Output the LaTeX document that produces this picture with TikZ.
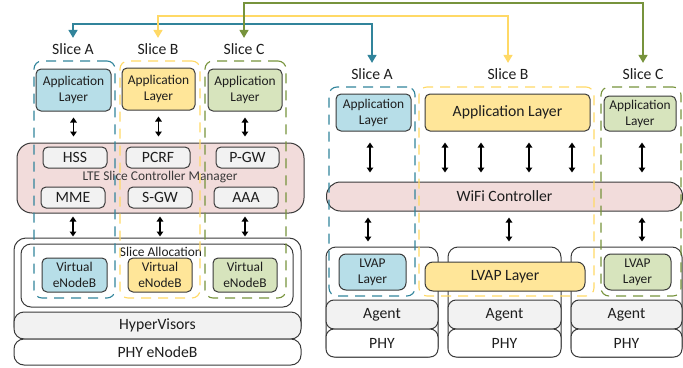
\documentclass[tikz,border=0pt]{standalone}
\usepackage{fontspec}
\setmainfont{Carlito}
\usetikzlibrary{arrows.meta}
\definecolor{blfill}{HTML}{B7DEE8}
\definecolor{ylfill}{HTML}{FFE699}
\definecolor{gnfill}{HTML}{D7E4BD}
\definecolor{pkfill}{HTML}{F2DCDB}
\definecolor{gyfill}{HTML}{F2F2F2}
\definecolor{blline}{HTML}{31849B}
\definecolor{ylline}{HTML}{FFD966}
\definecolor{gnline}{HTML}{77933C}
\definecolor{bordc}{HTML}{3A3A3A}
\definecolor{txtc}{HTML}{1E1E1E}
\begin{document}
\begin{tikzpicture}[x=1pt,y=-1pt,
  bigf/.style={font=\fontsize{15.7}{18}\selectfont},
  smf/.style={font=\fontsize{13.4}{16}\selectfont},
  sz/.style 2 args={minimum width=#1, minimum height=#2},
  box/.style={draw=bordc, line width=1, rounded corners=5, align=center, inner sep=0, text=txtc},
  dashbox/.style={draw=#1, line width=1.1, dash pattern=on 10pt off 7pt, rounded corners=8, inner sep=0},
  slicelbl/.style={bigf, inner xsep=0, inner ysep=5, anchor=base, text=txtc},
  sarrow/.style={draw=#1, line width=1.5, {Triangle[width=9pt,length=8pt]}-{Triangle[width=9pt,length=8pt]}},
  dbl/.style={draw=black, line width=1.3, {Triangle[width=6.5pt,length=5pt]}-{Triangle[width=6.5pt,length=5pt]}},
  plain/.style={inner sep=0, text=txtc}
]
\useasboundingbox (0,0) rectangle (683,367);

% ---------------- LEFT (LTE) ----------------
\node[slicelbl] (lsA) at (73,54) {Slice A};
\node[slicelbl] (lsB) at (158,54) {Slice B};
\node[slicelbl] (lsC) at (244,54) {Slice C};

\node[box, smf, fill=blfill, sz={75}{42}] (alA) at (73.5,90) {Application\\Layer};
\node[box, smf, fill=ylfill, sz={73}{42}] (alB) at (158.5,89) {Application\\Layer};
\node[box, smf, fill=gnfill, sz={74}{42}] (alC) at (245,90) {Application\\Layer};

\node[box, fill=pkfill, rounded corners=15, sz={287}{70}] (lte) at (160.5,178) {};
\node[box, bigf, fill=gyfill, sz={64}{21}] (hss) at (75,157.5) {HSS};
\node[box, bigf, fill=gyfill, sz={64}{21}] (pcrf) at (158,157.5) {PCRF};
\node[box, bigf, fill=gyfill, sz={63}{21}] (pgw) at (247.5,157.5) {P-GW};
\node[box, bigf, fill=gyfill, sz={64}{21}] (mme) at (73,197.5) {MME};
\node[box, bigf, fill=gyfill, sz={64}{21}] (sgw) at (160,197.5) {S-GW};
\node[box, bigf, fill=gyfill, sz={64}{21}] (aaa) at (246,197.5) {AAA};
\node[plain, smf, anchor=base, text=bordc] (ltetxt) at (160,180) {LTE Slice Controller Manager};

\node[box, rounded corners=12, sz={287}{100}] (enbout) at (157.5,288) {};
\node[box, rounded corners=10, sz={272}{63}] (alloc) at (157,275.5) {};
\node[plain, smf, anchor=base] (alloctxt) at (161,256) {Slice Allocation};
\node[box, smf, fill=blfill, sz={65}{34}] (vA) at (74.5,275) {Virtual\\eNodeB};
\node[box, smf, fill=ylfill, sz={64}{34}] (vB) at (160,275) {Virtual\\eNodeB};
\node[box, smf, fill=gnfill, sz={64}{34}] (vC) at (245,275) {Virtual\\eNodeB};
\node[box, bigf, fill=gyfill, rounded corners=10, sz={287}{27}] (hyp) at (157.5,325.5) {HyperVisors};
\node[box, bigf, fill=white, rounded corners=10, sz={287}{26}] (phye) at (157.5,352) {PHY eNodeB};

% dashed slices (left)
\node[dashbox=blline, sz={81}{237}] (dlA) at (74.5,179.5) {};
\node[dashbox=ylline, sz={80}{237}] (dlB) at (160,179.5) {};
\node[dashbox=gnline, sz={81}{237}] (dlC) at (245.5,179.5) {};

% double arrows (left)
\foreach \n in {alA,alB,alC}{
  \draw[dbl] ([yshift=-6]\n.south) -- ([yshift=6]\n.south |- lte.north);
}
\draw[dbl] ([xshift=-1.5,yshift=-3]vA.center |- lte.south) -- ([xshift=-1.5,yshift=1]vA.center |- enbout.north);
\draw[dbl] ([yshift=-3]vB.center |- lte.south) -- ([yshift=1]vB.center |- enbout.north);
\draw[dbl] ([yshift=-3]vC.center |- lte.south) -- ([yshift=1]vC.center |- enbout.north);

% ---------------- RIGHT (WiFi) ----------------
\node[slicelbl] (rsA) at (372,79) {Slice A};
\node[slicelbl] (rsB) at (508,79) {Slice B};
\node[slicelbl] (rsC) at (643,79) {Slice C};

\node[box, smf, fill=blfill, sz={75}{37}] (arA) at (373.5,112.5) {Application\\Layer};
\node[box, bigf, fill=ylfill, sz={165}{37}] (arB) at (507.5,112.5) {Application Layer};
\node[box, smf, fill=gnfill, sz={72}{35}] (arC) at (640,113.5) {Application\\Layer};

\node[box, bigf, fill=pkfill, rounded corners=14, sz={356}{29}] (wifi) at (504.5,196.5) {WiFi Controller};

\node[box, rounded corners=10, sz={112}{110}] (devA) at (382,302) {};
\node[box, rounded corners=10, sz={113}{110}] (devB) at (504.5,302) {};
\node[box, rounded corners=10, sz={111}{110}] (devC) at (626.5,302) {};
\node[box, bigf, fill=gyfill, rounded corners=8, sz={112}{29}] (agA) at (382,314.5) {Agent};
\node[box, bigf, fill=gyfill, rounded corners=8, sz={113}{29}] (agB) at (504.5,314.5) {Agent};
\node[box, bigf, fill=gyfill, rounded corners=8, sz={111}{29}] (agC) at (626.5,314.5) {Agent};
\node[box, bigf, fill=white, rounded corners=8, sz={112}{28}] (phA) at (382,343) {PHY};
\node[box, bigf, fill=white, rounded corners=8, sz={113}{28}] (phB) at (504.5,343) {PHY};
\node[box, bigf, fill=white, rounded corners=8, sz={111}{28}] (phC) at (626.5,343) {PHY};

\node[box, smf, fill=blfill, rounded corners=7, sz={67}{36}] (lvA) at (372.5,272) {LVAP\\Layer};
\node[box, bigf, fill=ylfill, rounded corners=8, sz={160}{29}] (lvB) at (505,276.5) {LVAP Layer};
\node[box, smf, fill=gnfill, rounded corners=7, sz={67}{36}] (lvC) at (637.5,272) {LVAP\\Layer};

% dashed slices (right)
\node[dashbox=blline, sz={86}{209}] (drA) at (372,191.5) {};
\node[dashbox=ylline, sz={175}{209}] (drB) at (506.5,191.5) {};
\node[dashbox=gnline, sz={80}{209}] (drC) at (641,191.5) {};

% double arrows (right, upper)
\draw[dbl] ([xshift=-3.5,yshift=-11]arA.south) -- ([xshift=-3.5,yshift=9]arA.south |- wifi.north);
\foreach \dx in {-62.5,-26.5,21.5,64.5}{
  \draw[dbl] ([xshift=\dx,yshift=-11]arB.south) -- ([xshift=\dx,yshift=9]arB.south |- wifi.north);
}
\draw[dbl] ([xshift=2,yshift=-11]arC.south) -- ([xshift=2,yshift=9]arC.south |- wifi.north);

% double arrows (right, lower)
\draw[dbl] ([xshift=-4.5,yshift=-6]lvA.north |- wifi.south) -- ([xshift=-4.5,yshift=5]lvA.north |- devA.north);
\draw[dbl] ([xshift=4,yshift=-6]lvB.north |- wifi.south) -- ([xshift=4,yshift=5]lvB.north |- devB.north);
\draw[dbl] ([xshift=4.5,yshift=-6]lvC.north |- wifi.south) -- ([xshift=4.5,yshift=5]lvC.north |- devC.north);

% ---------------- slice connectors ----------------
\coordinate (turnA) at (0,24);
\coordinate (turnB) at (0,16);
\coordinate (turnC) at (0,3);
\draw[sarrow=blline] (lsA.north) -- (lsA.north |- turnA) -| (rsA.north);
\draw[sarrow=ylline] (lsB.north) -- (lsB.north |- turnB) -| (rsB.north);
\draw[sarrow=gnline] (lsC.north) -- (lsC.north |- turnC) -| (rsC.north);
\end{tikzpicture}
\end{document}
